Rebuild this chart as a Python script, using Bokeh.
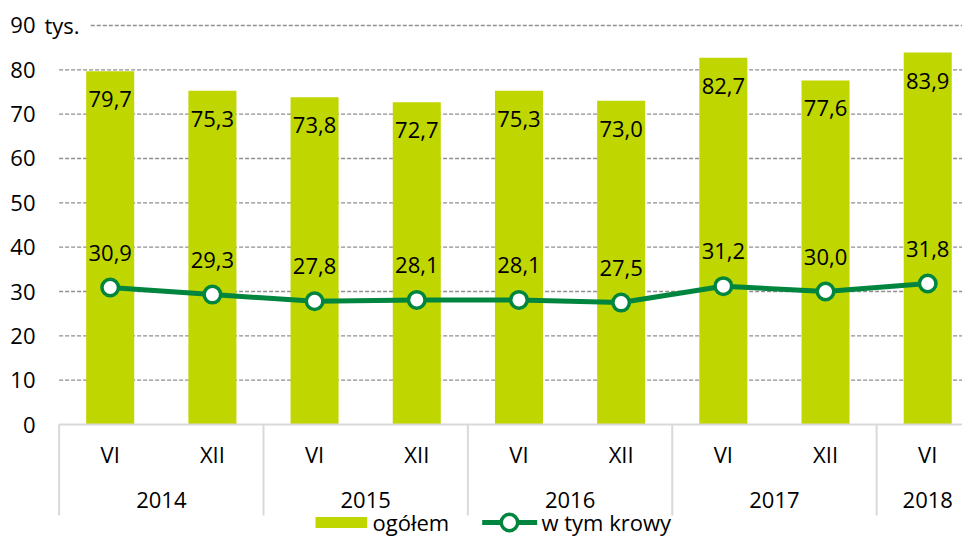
from bokeh.plotting import figure
from bokeh.models import Range1d
from bokeh.core.properties import value
from bokeh.embed import file_html
from bokeh.resources import INLINE

# ---- data ----
months = ["VI", "XII", "VI", "XII", "VI", "XII", "VI", "XII", "VI"]
years = ["2014", "2015", "2016", "2017", "2018"]
year_sizes = [2, 2, 2, 2, 1]
ogolem = [79.7, 75.3, 73.8, 72.7, 75.3, 73.0, 82.7, 77.6, 83.9]
krowy = [30.9, 29.3, 27.8, 28.1, 28.1, 27.5, 31.2, 30.0, 31.8]
yticks = [0, 10, 20, 30, 40, 50, 60, 70, 80, 90]
unit_label = "tys."
legend_labels = ["ogółem", "w tym krowy"]

# ---- style ----
FONT = value("Open Sans")
FS = "22px"
BAR_COLOR = "#BFD600"
LINE_COLOR = "#00853E"
GRID_COLOR = "#8f8f8f"
SEP_COLOR = "#D9D9D9"

def fmt(v):
    return f"{v:.1f}".replace(".", ",")

W, H = 962, 536
p = figure(width=W, height=H, output_backend="svg", toolbar_location=None,
           x_axis_location=None, y_axis_location=None,
           x_range=Range1d(-1.0735, 8.3403), y_range=Range1d(-25.263, 95.639),
           min_border=0, min_border_left=0, min_border_right=0,
           min_border_top=0, min_border_bottom=0)
p.outline_line_color = None
p.xgrid.visible = False
p.ygrid.visible = False
p.background_fill_color = "white"

xs = list(range(len(months)))
right_end = 8.5

# gridlines (dashed) for ticks above 0
g_x0 = [(-0.19 if t == yticks[-1] else -0.5) for t in yticks[1:]]
g_x1 = [right_end for _ in yticks[1:]]
p.segment(x0=g_x0, x1=g_x1, y0=yticks[1:], y1=yticks[1:],
          line_color=GRID_COLOR, line_width=1.4, line_dash="4 2")

# bars
p.vbar(x=xs, top=ogolem, width=0.47, bottom=0, fill_color=BAR_COLOR, line_color=None)

# baseline axis line
p.segment(x0=[-0.5], x1=[right_end], y0=[0], y1=[0], line_color=SEP_COLOR, line_width=2)

# separators between year groups
starts = []
s = 0
for n in year_sizes:
    starts.append(s)
    s += n
sep_x = [st - 0.5 for st in starts]
p.segment(x0=sep_x, x1=sep_x, y0=[0] * len(sep_x), y1=[-20.53] * len(sep_x),
          line_color=SEP_COLOR, line_width=2)

# y tick labels
p.text(x=[-0.731] * len(yticks), y=yticks, text=[str(t) for t in yticks],
       text_font=FONT, text_font_size=FS, text_color="black",
       text_align="right", text_baseline="middle")
p.text(x=[-0.643], y=[yticks[-1]], text=[unit_label],
       text_font=FONT, text_font_size=FS, text_color="black",
       text_align="left", text_baseline="middle")

# month labels
p.text(x=xs, y=[-6.61] * len(xs), text=months, text_font=FONT, text_font_size=FS,
       text_color="black", text_align="center", text_baseline="middle")

# year labels
year_x = [st + (n - 1) / 2 for st, n in zip(starts, year_sizes)]
p.text(x=year_x, y=[-16.99] * len(year_x), text=years, text_font=FONT, text_font_size=FS,
       text_color="black", text_align="center", text_baseline="middle")

# bar value labels
p.text(x=xs, y=ogolem, text=[fmt(v) for v in ogolem], y_offset=28,
       text_font=FONT, text_font_size=FS, text_color="black",
       text_align="center", text_baseline="middle")

# line series
p.line(x=xs, y=krowy, line_color=LINE_COLOR, line_width=5)
p.scatter(x=xs, y=krowy, size=16.5, marker="circle", fill_color="white",
          line_color=LINE_COLOR, line_width=3.5)
p.text(x=xs, y=krowy, text=[fmt(v) for v in krowy], y_offset=-35,
       text_font=FONT, text_font_size=FS, text_color="black",
       text_align="center", text_baseline="middle")

# legend (manual)
leg_y = -22.1
p.rect(x=[2.262], y=[leg_y], width=0.506, height=2.48, fill_color=BAR_COLOR, line_color=None)
p.text(x=[2.567], y=[leg_y], text=[legend_labels[0]], text_font=FONT, text_font_size=FS,
       text_color="black", text_align="left", text_baseline="middle")
p.line(x=[3.640, 4.178], y=[leg_y, leg_y], line_color=LINE_COLOR, line_width=5)
p.scatter(x=[3.907], y=[leg_y], size=16.5, marker="circle", fill_color="white",
          line_color=LINE_COLOR, line_width=3.5)
p.text(x=[4.220], y=[leg_y], text=[legend_labels[1]], text_font=FONT, text_font_size=FS,
       text_color="black", text_align="left", text_baseline="middle")

open("out.html", "w").write(file_html(p, INLINE))
